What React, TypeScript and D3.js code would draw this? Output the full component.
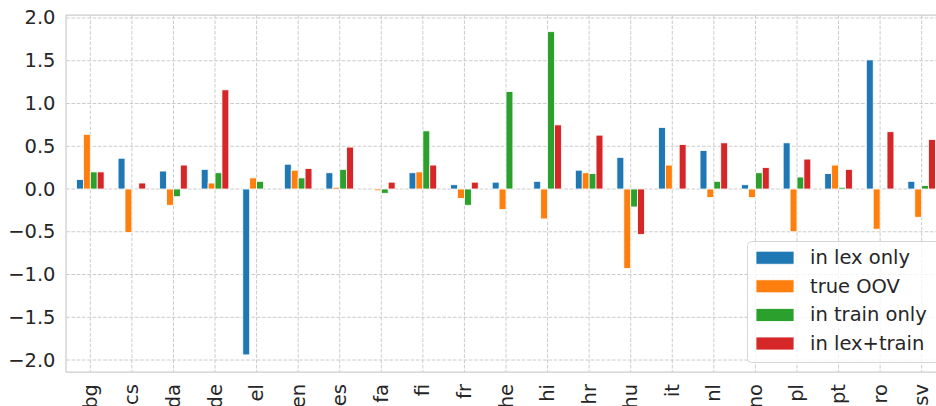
import { useEffect, useRef } from "react";
import * as d3 from "d3";

const languages = ["bg", "cs", "da", "de", "el", "en", "es", "fa", "fi", "fr", "he", "hi", "hr", "hu", "it", "nl", "no", "pl", "pt", "ro", "sv"];

const seriesNames = ["in lex only", "true OOV", "in train only", "in lex+train"];
const seriesColors = ["#1f77b4", "#ff7f0e", "#2ca02c", "#d62728"];

// values, one per language (null = no bar)
const inLexOnly = [0.11, 0.36, 0.21, 0.23, -1.94, 0.29, 0.19, null, 0.19, 0.05, 0.08, 0.09, 0.22, 0.37, 0.72, 0.45, 0.05, 0.54, 0.18, 1.51, 0.09];
const trueOOV = [0.64, -0.51, -0.19, 0.07, 0.13, 0.22, 0.02, -0.02, 0.2, -0.11, -0.24, -0.35, 0.19, -0.93, 0.28, -0.1, -0.1, -0.5, 0.28, -0.47, -0.33];
const inTrainOnly = [0.2, null, -0.09, 0.19, 0.09, 0.13, 0.23, -0.05, 0.68, -0.19, 1.14, 1.84, 0.18, -0.21, null, 0.09, 0.19, 0.14, 0.02, null, 0.04];
const inLexTrain = [0.2, 0.07, 0.28, 1.16, null, 0.24, 0.49, 0.08, 0.28, 0.08, null, 0.75, 0.63, -0.53, 0.52, 0.54, 0.25, 0.35, 0.23, 0.67, 0.58];

const yTicks = [-2.0, -1.5, -1.0, -0.5, 0.0, 0.5, 1.0, 1.5, 2.0];

export default function App() {
  const svgRef = useRef<SVGSVGElement | null>(null);

  useEffect(() => {
    if (!svgRef.current) return;
    const W = 936, H = 406;
    const left = 66, top = 15, bottom = 372;
    const fontSize = 19.5;
    const textColor = "#262626";
    const gridColor = "#cccccc";

    const svg = d3.select(svgRef.current).attr("width", W).attr("height", H);
    svg.selectAll("*").remove();

    const x = d3.scaleLinear().domain([-0.585, 20.585]).range([left, 946]);
    const y = d3.scaleLinear().domain([-2.14, 2.035]).range([bottom, top]);

    const series = [inLexOnly, trueOOV, inTrainOnly, inLexTrain];
    const barW = 0.166;

    svg.append("rect").attr("x", left).attr("y", top).attr("width", 946 - left).attr("height", bottom - top).attr("fill", "white");

    // grid
    const grid = svg.append("g").attr("stroke", gridColor).attr("stroke-width", 1).attr("stroke-dasharray", "3.7,1.6");
    yTicks.forEach(t => {
      grid.append("line").attr("x1", left).attr("x2", 946).attr("y1", y(t)).attr("y2", y(t));
    });
    languages.forEach((_, i) => {
      grid.append("line").attr("x1", x(i)).attr("x2", x(i)).attr("y1", top).attr("y2", bottom);
    });

    // bars
    series.forEach((vals, s) => {
      svg.append("g")
        .selectAll("rect")
        .data(vals.map((v, i) => ({ v, i })).filter(d => d.v !== null))
        .join("rect")
        .attr("x", d => x(d.i + (s - 2) * barW))
        .attr("width", x(barW) - x(0))
        .attr("y", d => y(Math.max(0, d.v as number)))
        .attr("height", d => Math.abs(y(d.v as number) - y(0)))
        .attr("fill", seriesColors[s])
        .attr("stroke", "white")
        .attr("stroke-width", 0.8);
    });

    // spines
    const spines = svg.append("g").attr("stroke", gridColor).attr("stroke-width", 1.25).attr("fill", "none");
    spines.append("line").attr("x1", left).attr("x2", left).attr("y1", top).attr("y2", bottom);
    spines.append("line").attr("x1", left).attr("x2", 946).attr("y1", bottom).attr("y2", bottom);
    spines.append("line").attr("x1", left).attr("x2", 946).attr("y1", top).attr("y2", top);

    // y tick labels
    const fmt = d3.format(".1f");
    svg.append("g")
      .selectAll("text")
      .data(yTicks)
      .join("text")
      .attr("x", 55.5)
      .attr("y", d => y(d))
      .attr("text-anchor", "end")
      .attr("dominant-baseline", "central")
      .attr("font-family", "DejaVu Sans")
      .attr("font-size", fontSize)
      .attr("fill", textColor)
      .text(d => fmt(d));

    // x tick labels
    svg.append("g")
      .selectAll("text")
      .data(languages)
      .join("text")
      .attr("transform", (_, i) => `translate(${x(i)},384) rotate(-90)`)
      .attr("text-anchor", "end")
      .attr("dominant-baseline", "central")
      .attr("font-family", "DejaVu Sans")
      .attr("font-size", fontSize)
      .attr("fill", textColor)
      .text(d => d);

    // legend
    const legend = svg.append("g");
    legend.append("rect")
      .attr("x", 747.5).attr("y", 241.5).attr("width", 200).attr("height", 121).attr("rx", 4)
      .attr("fill", "white").attr("fill-opacity", 0.8).attr("stroke", "#d6d6d6");
    seriesNames.forEach((name, s) => {
      const cy = 257.7 + s * 28.6;
      legend.append("rect")
        .attr("x", 756).attr("y", cy - 6.5).attr("width", 38).attr("height", 13)
        .attr("fill", seriesColors[s]).attr("stroke", "white").attr("stroke-width", 0.8);
      legend.append("text")
        .attr("x", 810).attr("y", cy)
        .attr("dominant-baseline", "central")
        .attr("font-family", "DejaVu Sans")
        .attr("font-size", fontSize)
        .attr("fill", textColor)
        .text(name);
    });
  }, []);

  return <svg ref={svgRef} style={{ position: "absolute", left: 0, top: 0 }}></svg>;
}
